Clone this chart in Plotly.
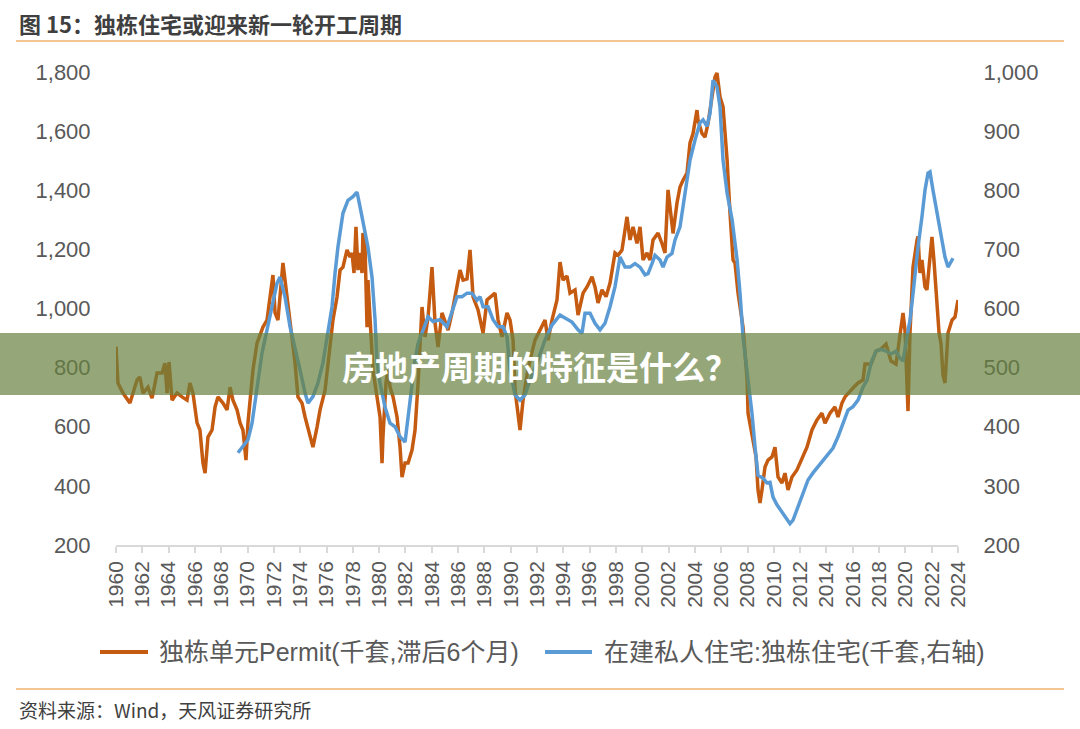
import plotly.graph_objects as go

# ---------------- data ----------------
permit_years = [
    1960.00, 1960.15, 1960.53, 1961.06, 1961.60, 1961.82, 1962.05, 1962.43, 1962.74, 1963.12,
    1963.50, 1963.72, 1963.88, 1964.03, 1964.26, 1964.64, 1965.02, 1965.40, 1965.62, 1965.85,
    1966.16, 1966.38, 1966.61, 1966.77, 1966.99, 1967.30, 1967.53, 1967.75, 1968.13, 1968.44,
    1968.67, 1968.89, 1969.20, 1969.43, 1969.65, 1969.88, 1970.03, 1970.41, 1970.72, 1971.17,
    1971.48, 1971.93, 1972.09, 1972.31, 1972.69, 1973.00, 1973.23, 1973.61, 1973.83, 1974.14,
    1974.37, 1974.75, 1974.97, 1975.28, 1975.51, 1975.89, 1976.11, 1976.49, 1976.80, 1977.03,
    1977.25, 1977.56, 1977.79, 1977.94, 1978.09, 1978.24, 1978.39, 1978.55, 1978.70, 1978.77,
    1978.93, 1979.08, 1979.15, 1979.53, 1979.84, 1980.07, 1980.22, 1980.29, 1980.52, 1980.67,
    1980.83, 1981.06, 1981.36, 1981.59, 1981.74, 1981.97, 1982.20, 1982.50, 1982.73, 1982.96,
    1983.26, 1983.49, 1983.72, 1984.02, 1984.25, 1984.48, 1984.78, 1985.24, 1985.54, 1985.77,
    1986.15, 1986.38, 1986.68, 1986.91, 1987.14, 1987.52, 1987.90, 1988.20, 1988.81, 1989.04,
    1989.34, 1989.72, 1989.95, 1990.18, 1990.33, 1990.71, 1990.94, 1991.24, 1991.47, 1991.85,
    1992.23, 1992.61, 1992.84, 1993.14, 1993.52, 1993.75, 1993.98, 1994.28, 1994.51, 1994.89,
    1995.12, 1995.50, 1995.80, 1996.18, 1996.41, 1996.64, 1996.94, 1997.25, 1997.55, 1997.93,
    1998.16, 1998.46, 1998.84, 1999.07, 1999.30, 1999.60, 1999.83, 2000.06, 2000.36, 2000.59,
    2000.82, 2001.20, 2001.50, 2001.73, 2001.96, 2002.26, 2002.34, 2002.64, 2002.87, 2003.10,
    2003.40, 2003.63, 2003.86, 2004.16, 2004.24, 2004.54, 2004.77, 2005.00, 2005.30, 2005.53,
    2005.68, 2005.91, 2006.14, 2006.45, 2006.67, 2006.90, 2007.05, 2007.28, 2007.66, 2007.97,
    2008.04, 2008.34, 2008.65, 2008.80, 2008.95, 2009.10, 2009.33, 2009.56, 2009.86, 2010.09,
    2010.32, 2010.62, 2010.85, 2011.08, 2011.38, 2011.76, 2012.14, 2012.52, 2012.90, 2013.28,
    2013.66, 2013.89, 2014.27, 2014.65, 2014.88, 2015.18, 2015.41, 2015.64, 2016.02, 2016.40,
    2016.78, 2016.93, 2017.39, 2017.77, 2018.15, 2018.53, 2018.91, 2019.29, 2019.59, 2019.82,
    2019.97, 2020.20, 2020.35, 2020.50, 2020.58, 2020.89, 2020.96, 2021.11, 2021.26, 2021.49,
    2021.64, 2021.80, 2022.02, 2022.17, 2022.40, 2022.56, 2022.71, 2022.86, 2023.01, 2023.24,
    2023.55, 2023.77, 2024.00,
]
permit_values = [
    871, 748, 714, 680, 758, 768, 714, 734, 697, 782,
    782, 815, 714, 819, 690, 714, 701, 690, 748, 714,
    613, 589, 477, 443, 565, 589, 667, 701, 680, 657,
    734, 690, 657, 613, 589, 487, 613, 792, 883, 937,
    961, 1113, 985, 961, 1154, 1039, 951, 815, 701, 680,
    633, 565, 531, 599, 657, 724, 815, 961, 1039, 1130,
    1140, 1198, 1174, 1188, 1120, 1276, 1130, 1188, 1120, 1255,
    1208, 937, 1096, 792, 701, 633, 477, 565, 748, 792,
    734, 701, 633, 531, 430, 477, 477, 521, 589, 748,
    1005, 904, 971, 1140, 951, 870, 985, 927, 985, 1039,
    1130, 1096, 1100, 1198, 1039, 995, 917, 1029, 1052, 961,
    904, 985, 961, 893, 724, 589, 690, 775, 826, 893,
    927, 961, 893, 961, 1029, 1157, 1096, 1110, 1052, 1063,
    978, 1052, 1073, 1107, 1073, 1019, 1063, 1040, 1086, 1188,
    1180, 1198, 1310, 1232, 1276, 1220, 1276, 1164, 1188, 1164,
    1232, 1255, 1220, 1188, 1401, 1266, 1254, 1357, 1411, 1434,
    1458, 1560, 1592, 1671, 1637, 1592, 1580, 1626, 1705, 1783,
    1797, 1716, 1682, 1502, 1323, 1164, 1154, 1052, 937, 758,
    646, 565, 498, 386, 342, 386, 464, 487, 498, 531,
    430, 410, 443, 386, 430, 454, 494, 531, 589, 623,
    646, 612, 646, 667, 633, 680, 701, 714, 731, 748,
    758, 812, 812, 856, 863, 880, 822, 812, 917, 985,
    927, 653, 917, 1120, 1140, 1232, 1244, 1120, 1164, 1073,
    1063, 1140, 1242, 1164, 1005, 917, 880, 775, 748, 917,
    961, 971, 1029,
]

starts_years = [
    1969.27, 1969.65, 1970.03, 1970.34, 1970.57, 1970.79, 1971.10, 1971.48, 1971.86, 1972.24,
    1972.47, 1972.85, 1973.23, 1973.61, 1973.99, 1974.37, 1974.59, 1974.97, 1975.35, 1975.73,
    1976.11, 1976.42, 1976.65, 1976.87, 1977.25, 1977.63, 1978.01, 1978.32, 1978.55, 1978.93,
    1979.15, 1979.46, 1979.69, 1979.84, 1980.07, 1980.45, 1980.83, 1981.21, 1981.59, 1981.97,
    1982.20, 1982.50, 1982.73, 1982.96, 1983.34, 1983.72, 1984.10, 1984.63, 1985.16, 1985.62,
    1985.92, 1986.30, 1986.68, 1987.06, 1987.44, 1987.67, 1987.90, 1988.28, 1988.66, 1989.04,
    1989.42, 1989.72, 1989.95, 1990.33, 1990.71, 1991.09, 1991.47, 1992.08, 1992.61, 1993.14,
    1993.75, 1994.13, 1994.66, 1995.12, 1995.42, 1995.65, 1996.03, 1996.41, 1996.79, 1997.17,
    1997.55, 1997.93, 1998.31, 1998.69, 1999.07, 1999.45, 1999.83, 2000.21, 2000.44, 2000.74,
    2000.97, 2001.35, 2001.58, 2001.88, 2002.26, 2002.49, 2002.87, 2003.25, 2003.63, 2004.01,
    2004.39, 2004.62, 2004.92, 2005.15, 2005.38, 2005.68, 2005.91, 2006.14, 2006.45, 2006.83,
    2007.21, 2007.43, 2007.66, 2008.04, 2008.34, 2008.57, 2008.80, 2009.18, 2009.48, 2009.71,
    2009.94, 2010.24, 2010.62, 2011.00, 2011.23, 2011.46, 2011.84, 2012.22, 2012.60, 2012.98,
    2013.36, 2013.74, 2014.27, 2014.50, 2014.88, 2015.26, 2015.64, 2016.02, 2016.40, 2016.78,
    2017.09, 2017.39, 2017.77, 2018.15, 2018.53, 2018.91, 2019.29, 2019.59, 2019.82, 2020.12,
    2020.35, 2020.50, 2020.73, 2020.96, 2021.26, 2021.49, 2021.72, 2021.87, 2022.10, 2022.40,
    2022.63, 2022.79, 2023.01, 2023.24, 2023.40, 2023.62,
]
starts_values = [
    356, 366, 378, 406, 440, 479, 525, 564, 603, 643,
    653, 619, 569, 535, 496, 457, 440, 451, 474, 508,
    564, 603, 660, 704, 761, 783, 789, 797, 772, 728,
    704, 653, 581, 508, 474, 433, 406, 400, 383, 374,
    416, 462, 513, 541, 564, 586, 578, 581, 569, 598,
    620, 620, 626, 626, 614, 620, 603, 603, 581, 569,
    569, 552, 496, 454, 445, 454, 479, 513, 547, 572,
    589, 584, 577, 564, 558, 592, 592, 575, 564, 575,
    603, 637, 687, 670, 670, 676, 670, 657, 659, 676,
    690, 682, 670, 687, 693, 716, 738, 795, 851, 885,
    914, 919, 908, 930, 986, 975, 941, 851, 795, 750,
    682, 626, 552, 479, 423, 366, 318, 313, 305, 306,
    281, 268, 256, 242, 236, 242, 264, 288, 310, 322,
    332, 344, 356, 364, 383, 406, 428, 434, 445, 467,
    479, 508, 528, 531, 528, 523, 528, 516, 511, 552,
    580, 609, 660, 704, 755, 800, 829, 831, 800, 761,
    738, 711, 687, 670, 676, 685,
]

year_tick_values = [1960, 1962, 1964, 1966, 1968, 1970, 1972, 1974, 1976, 1978, 1980,
                    1982, 1984, 1986, 1988, 1990, 1992, 1994, 1996, 1998, 2000, 2002,
                    2004, 2006, 2008, 2010, 2012, 2014, 2016, 2018, 2020, 2022, 2024]
year_tick_labels = [str(y) for y in year_tick_values]

permit_name = "独栋单元Permit(千套,滞后6个月)"
starts_name = "在建私人住宅:独栋住宅(千套,右轴)"
title_text = "图 15：独栋住宅或迎来新一轮开工周期"
source_text = "资料来源：Wind，天风证券研究所"
banner_text = "房地产周期的特征是什么？"

# ---------------- figure ----------------
W, H = 1080, 729
L, R, T, B = 116, 122, 72, 184
PW, PH = W - L - R, H - T - B


def px(x):
    return (x - L) / PW


def py(y):
    return (H - B - y) / PH


FONT = "Liberation Sans, Arial, Noto Sans CJK SC, sans-serif"
CJK = "Noto Sans CJK SC, sans-serif"
GRAY = "#595959"
ORANGE = "#c55a11"
BLUE = "#5b9bd5"
RULE = "#efb26f"

fig = go.Figure()
fig.add_trace(go.Scatter(x=permit_years, y=permit_values, name=permit_name,
                         mode="lines", line=dict(color=ORANGE, width=3.5), yaxis="y"))
fig.add_trace(go.Scatter(x=starts_years, y=starts_values, name=starts_name,
                         mode="lines", line=dict(color=BLUE, width=3.5), yaxis="y2"))

fig.update_layout(
    width=W, height=H, autosize=False,
    margin=dict(l=L, r=R, t=T, b=B, pad=0, autoexpand=False),
    paper_bgcolor="white", plot_bgcolor="white",
    font=dict(family=FONT, color=GRAY),
    showlegend=False,
    xaxis=dict(range=[1960, 2024], tickmode="array", tickvals=year_tick_values,
               ticktext=year_tick_labels, tickangle=-90, showgrid=False, zeroline=False,
               showline=True, linecolor="#d9d9d9", linewidth=1.5,
               ticks="outside", ticklen=6, tickcolor="#d9d9d9", tickwidth=1.5,
               tickfont=dict(family=FONT, size=21, color=GRAY)),
    yaxis=dict(range=[200, 1800], tickvals=[200, 400, 600, 800, 1000, 1200, 1400, 1600, 1800],
               tickformat=",", showgrid=False, zeroline=False, showline=False,
               ticks="outside", ticklen=20, tickcolor="rgba(0,0,0,0)",
               tickfont=dict(family=FONT, size=22, color=GRAY)),
    yaxis2=dict(range=[200, 1000], tickvals=[200, 300, 400, 500, 600, 700, 800, 900, 1000],
                tickformat=",", overlaying="y", side="right", showgrid=False,
                zeroline=False, showline=False,
                ticks="outside", ticklen=20, tickcolor="rgba(0,0,0,0)",
                tickfont=dict(family=FONT, size=22, color=GRAY)),
)

LEG_Y = 652
shapes = [
    dict(type="line", xref="paper", yref="paper", x0=px(16), x1=px(1064), y0=py(41), y1=py(41),
         line=dict(color=RULE, width=1.5), layer="above"),
    dict(type="line", xref="paper", yref="paper", x0=px(16), x1=px(1064), y0=py(689), y1=py(689),
         line=dict(color=RULE, width=1.5), layer="above"),
    dict(type="rect", xref="paper", yref="paper", x0=px(0), x1=px(W), y0=py(395), y1=py(333),
         fillcolor="rgba(104,130,62,0.70)", line=dict(width=0), layer="above"),
    # legend keys
    dict(type="line", xref="paper", yref="paper", x0=px(100), x1=px(148), y0=py(LEG_Y), y1=py(LEG_Y),
         line=dict(color=ORANGE, width=4)),
    dict(type="line", xref="paper", yref="paper", x0=px(545), x1=px(592), y0=py(LEG_Y), y1=py(LEG_Y),
         line=dict(color=BLUE, width=4)),
]
fig.update_layout(shapes=shapes)

fig.add_annotation(xref="paper", yref="paper", x=px(157), y=py(LEG_Y), xanchor="left", yanchor="middle",
                   text=permit_name, showarrow=False,
                   font=dict(family=FONT, size=25, color=GRAY))
fig.add_annotation(xref="paper", yref="paper", x=px(602), y=py(LEG_Y), xanchor="left", yanchor="middle",
                   text=starts_name, showarrow=False,
                   font=dict(family=FONT, size=25, color=GRAY))

fig.add_annotation(xref="paper", yref="paper", x=px(17), y=py(23), xanchor="left", yanchor="middle",
                   text="<b>" + title_text + "</b>", showarrow=False,
                   font=dict(family=CJK, size=22, color="#3f3f3f"))
fig.add_annotation(xref="paper", yref="paper", x=px(17), y=py(709), xanchor="left", yanchor="middle",
                   text=source_text, showarrow=False,
                   font=dict(family=CJK, size=19, color="#404040"))
fig.add_annotation(xref="paper", yref="paper", x=px(540), y=py(366), xanchor="center", yanchor="middle",
                   text="<b>" + banner_text + "</b>", showarrow=False,
                   font=dict(family=CJK, size=33, color="white"))

fig.write_html("out.html")
